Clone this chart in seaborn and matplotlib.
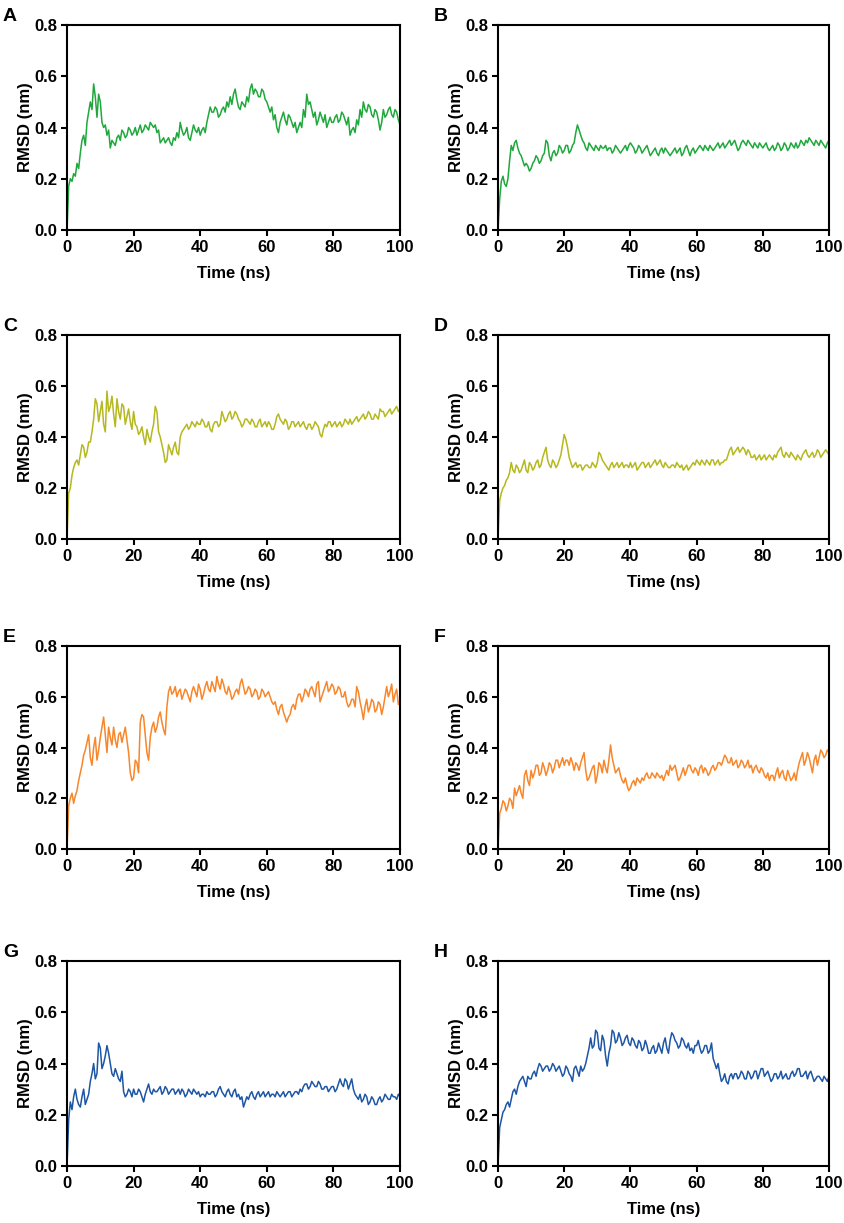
import matplotlib
matplotlib.use("Agg")
import matplotlib.pyplot as plt
import seaborn as sns
import pandas as pd

# time axis (ns): readings at whole ns and at the half-ns in between
time_whole = list(range(101))
time_half = [t + 0.5 for t in range(100)]

# --- A ---
rmsd_a = [0.00, 0.20, 0.22, 0.26, 0.30, 0.37, 0.42, 0.50, 0.57, 0.44, 0.50, 0.40, 0.37, 0.32, 0.34, 0.36, 0.35, 0.38, 0.37, 0.39,
          0.38, 0.37, 0.41, 0.39, 0.40, 0.42, 0.40, 0.38, 0.34, 0.36, 0.35, 0.34, 0.36, 0.38, 0.42, 0.37, 0.40, 0.35, 0.41, 0.38,
          0.37, 0.40, 0.42, 0.48, 0.46, 0.47, 0.45, 0.48, 0.50, 0.52, 0.53, 0.51, 0.47, 0.49, 0.52, 0.55, 0.53, 0.54, 0.52, 0.54,
          0.50, 0.46, 0.43, 0.40, 0.42, 0.46, 0.41, 0.44, 0.40, 0.38, 0.42, 0.47, 0.53, 0.50, 0.44, 0.41, 0.46, 0.42, 0.40, 0.44,
          0.42, 0.45, 0.43, 0.45, 0.41, 0.37, 0.40, 0.43, 0.47, 0.50, 0.46, 0.48, 0.44, 0.46, 0.39, 0.47, 0.45, 0.48, 0.44, 0.46,
          0.41]
rmsd_a_half = [0.17, 0.19, 0.21, 0.24, 0.35, 0.33, 0.46, 0.47, 0.52, 0.53, 0.42, 0.41, 0.39, 0.35, 0.33, 0.37, 0.39, 0.36, 0.40, 0.37,
               0.40, 0.39, 0.38, 0.41, 0.39, 0.41, 0.41, 0.39, 0.35, 0.34, 0.36, 0.33, 0.35, 0.36, 0.39, 0.38, 0.36, 0.38, 0.39, 0.40,
               0.39, 0.38, 0.45, 0.46, 0.48, 0.44, 0.47, 0.46, 0.48, 0.49, 0.55, 0.48, 0.50, 0.48, 0.50, 0.57, 0.55, 0.52, 0.55, 0.51,
               0.48, 0.48, 0.45, 0.38, 0.44, 0.43, 0.45, 0.42, 0.42, 0.40, 0.40, 0.44, 0.49, 0.47, 0.46, 0.43, 0.44, 0.45, 0.42, 0.42,
               0.44, 0.42, 0.46, 0.43, 0.44, 0.39, 0.38, 0.41, 0.44, 0.47, 0.49, 0.45, 0.47, 0.43, 0.42, 0.44, 0.47, 0.45, 0.47, 0.43]

# --- B ---
rmsd_b = [0.00, 0.19, 0.18, 0.20, 0.33, 0.34, 0.32, 0.29, 0.25, 0.25, 0.24, 0.27, 0.28, 0.27, 0.30, 0.34, 0.27, 0.31, 0.30, 0.32,
          0.31, 0.33, 0.31, 0.34, 0.41, 0.37, 0.34, 0.31, 0.33, 0.31, 0.32, 0.33, 0.32, 0.31, 0.32, 0.31, 0.32, 0.30, 0.32, 0.31,
          0.34, 0.32, 0.31, 0.32, 0.31, 0.33, 0.29, 0.31, 0.30, 0.31, 0.30, 0.31, 0.29, 0.31, 0.30, 0.32, 0.30, 0.33, 0.29, 0.32,
          0.31, 0.33, 0.31, 0.32, 0.33, 0.31, 0.33, 0.32, 0.34, 0.33, 0.35, 0.34, 0.33, 0.32, 0.35, 0.33, 0.34, 0.32, 0.33, 0.34,
          0.32, 0.34, 0.31, 0.33, 0.32, 0.33, 0.32, 0.33, 0.32, 0.33, 0.34, 0.33, 0.34, 0.35, 0.36, 0.34, 0.35, 0.33, 0.34, 0.32,
          0.35]
rmsd_b_half = [0.12, 0.21, 0.17, 0.27, 0.31, 0.35, 0.30, 0.27, 0.26, 0.23, 0.26, 0.29, 0.26, 0.29, 0.35, 0.29, 0.30, 0.29, 0.33, 0.30,
               0.33, 0.30, 0.33, 0.38, 0.39, 0.35, 0.32, 0.34, 0.32, 0.33, 0.31, 0.32, 0.33, 0.32, 0.30, 0.33, 0.31, 0.31, 0.33, 0.33,
               0.33, 0.30, 0.33, 0.30, 0.32, 0.31, 0.30, 0.32, 0.29, 0.32, 0.32, 0.30, 0.30, 0.32, 0.31, 0.29, 0.32, 0.31, 0.31, 0.30,
               0.32, 0.32, 0.33, 0.31, 0.32, 0.32, 0.34, 0.33, 0.32, 0.34, 0.33, 0.35, 0.31, 0.34, 0.34, 0.35, 0.33, 0.34, 0.32, 0.33,
               0.33, 0.32, 0.32, 0.31, 0.34, 0.31, 0.34, 0.31, 0.34, 0.32, 0.32, 0.35, 0.33, 0.34, 0.35, 0.33, 0.34, 0.35, 0.33, 0.34]

# --- C ---
rmsd_c = [0.00, 0.20, 0.28, 0.31, 0.33, 0.36, 0.34, 0.38, 0.47, 0.53, 0.50, 0.45, 0.58, 0.52, 0.49, 0.55, 0.47, 0.52, 0.48, 0.46,
          0.50, 0.44, 0.42, 0.40, 0.43, 0.38, 0.45, 0.50, 0.40, 0.34, 0.31, 0.35, 0.36, 0.34, 0.40, 0.43, 0.45, 0.44, 0.45, 0.46,
          0.45, 0.46, 0.44, 0.43, 0.45, 0.46, 0.45, 0.48, 0.47, 0.50, 0.48, 0.49, 0.46, 0.45, 0.47, 0.45, 0.46, 0.44, 0.47, 0.45,
          0.44, 0.45, 0.43, 0.48, 0.47, 0.45, 0.46, 0.44, 0.46, 0.45, 0.44, 0.46, 0.43, 0.45, 0.44, 0.45, 0.41, 0.43, 0.44, 0.46,
          0.45, 0.44, 0.46, 0.45, 0.46, 0.47, 0.46, 0.48, 0.47, 0.49, 0.48, 0.49, 0.47, 0.48, 0.51, 0.50, 0.49, 0.51, 0.50, 0.52,
          0.51]
rmsd_c_half = [0.18, 0.25, 0.30, 0.29, 0.37, 0.32, 0.38, 0.42, 0.55, 0.46, 0.54, 0.42, 0.50, 0.56, 0.44, 0.50, 0.53, 0.45, 0.51, 0.43,
               0.45, 0.41, 0.44, 0.37, 0.40, 0.42, 0.52, 0.42, 0.37, 0.30, 0.37, 0.33, 0.38, 0.33, 0.42, 0.44, 0.43, 0.46, 0.44, 0.45,
               0.47, 0.44, 0.46, 0.42, 0.46, 0.44, 0.50, 0.46, 0.49, 0.47, 0.50, 0.47, 0.44, 0.47, 0.46, 0.47, 0.44, 0.46, 0.44, 0.46,
               0.46, 0.43, 0.45, 0.49, 0.46, 0.47, 0.43, 0.46, 0.44, 0.46, 0.45, 0.44, 0.45, 0.43, 0.46, 0.44, 0.40, 0.45, 0.46, 0.44,
               0.46, 0.45, 0.44, 0.47, 0.45, 0.45, 0.47, 0.46, 0.48, 0.47, 0.50, 0.47, 0.49, 0.47, 0.50, 0.48, 0.50, 0.49, 0.51, 0.50]

# --- D ---
rmsd_d = [0.00, 0.18, 0.21, 0.24, 0.30, 0.26, 0.28, 0.27, 0.31, 0.26, 0.29, 0.28, 0.31, 0.29, 0.34, 0.31, 0.28, 0.30, 0.29, 0.33,
          0.41, 0.36, 0.30, 0.29, 0.28, 0.29, 0.28, 0.29, 0.28, 0.29, 0.30, 0.33, 0.30, 0.28, 0.29, 0.28, 0.30, 0.29, 0.28, 0.29,
          0.30, 0.29, 0.27, 0.29, 0.30, 0.29, 0.28, 0.30, 0.29, 0.31, 0.28, 0.29, 0.28, 0.29, 0.30, 0.28, 0.27, 0.29, 0.28, 0.30,
          0.31, 0.29, 0.30, 0.31, 0.29, 0.31, 0.30, 0.29, 0.30, 0.31, 0.35, 0.33, 0.35, 0.34, 0.36, 0.33, 0.34, 0.32, 0.31, 0.33,
          0.32, 0.31, 0.33, 0.31, 0.32, 0.35, 0.33, 0.34, 0.32, 0.33, 0.31, 0.32, 0.33, 0.35, 0.32, 0.34, 0.33, 0.34, 0.33, 0.35,
          0.33]
rmsd_d_half = [0.15, 0.20, 0.23, 0.26, 0.27, 0.29, 0.26, 0.29, 0.27, 0.30, 0.27, 0.30, 0.28, 0.32, 0.36, 0.29, 0.31, 0.28, 0.31, 0.37,
               0.39, 0.32, 0.28, 0.30, 0.29, 0.27, 0.29, 0.28, 0.30, 0.28, 0.34, 0.31, 0.29, 0.27, 0.30, 0.29, 0.28, 0.30, 0.29, 0.28,
               0.28, 0.30, 0.28, 0.30, 0.28, 0.30, 0.29, 0.31, 0.30, 0.29, 0.30, 0.28, 0.29, 0.28, 0.29, 0.29, 0.28, 0.27, 0.29, 0.29,
               0.30, 0.31, 0.29, 0.30, 0.31, 0.29, 0.31, 0.30, 0.31, 0.33, 0.36, 0.34, 0.36, 0.35, 0.35, 0.35, 0.32, 0.33, 0.32, 0.31,
               0.33, 0.32, 0.32, 0.33, 0.34, 0.36, 0.32, 0.33, 0.34, 0.32, 0.33, 0.31, 0.34, 0.33, 0.33, 0.32, 0.35, 0.32, 0.34, 0.34]

# --- E ---
rmsd_e = [0.00, 0.20, 0.18, 0.23, 0.30, 0.37, 0.42, 0.36, 0.40, 0.35, 0.44, 0.52, 0.38, 0.44, 0.48, 0.40, 0.46, 0.45, 0.43, 0.30,
          0.28, 0.34, 0.50, 0.52, 0.38, 0.44, 0.50, 0.48, 0.54, 0.47, 0.56, 0.64, 0.62, 0.60, 0.63, 0.61, 0.62, 0.58, 0.64, 0.60,
          0.63, 0.61, 0.66, 0.62, 0.64, 0.68, 0.63, 0.65, 0.61, 0.62, 0.60, 0.63, 0.65, 0.64, 0.62, 0.63, 0.61, 0.62, 0.60, 0.62,
          0.61, 0.60, 0.57, 0.55, 0.56, 0.54, 0.50, 0.53, 0.57, 0.59, 0.61, 0.60, 0.62, 0.63, 0.62, 0.65, 0.58, 0.62, 0.66, 0.63,
          0.64, 0.62, 0.63, 0.60, 0.58, 0.57, 0.59, 0.64, 0.58, 0.51, 0.59, 0.56, 0.58, 0.55, 0.57, 0.56, 0.64, 0.62, 0.58, 0.63,
          0.58]
rmsd_e_half = [0.17, 0.22, 0.21, 0.27, 0.33, 0.39, 0.45, 0.33, 0.44, 0.39, 0.48, 0.45, 0.48, 0.41, 0.43, 0.45, 0.42, 0.48, 0.38, 0.27,
               0.35, 0.30, 0.53, 0.45, 0.35, 0.48, 0.46, 0.52, 0.50, 0.45, 0.62, 0.61, 0.64, 0.62, 0.59, 0.63, 0.60, 0.62, 0.62, 0.65,
               0.59, 0.64, 0.63, 0.66, 0.62, 0.65, 0.67, 0.62, 0.64, 0.59, 0.62, 0.61, 0.67, 0.61, 0.64, 0.60, 0.63, 0.59, 0.63, 0.60,
               0.62, 0.58, 0.58, 0.53, 0.57, 0.52, 0.52, 0.56, 0.55, 0.61, 0.58, 0.63, 0.60, 0.64, 0.60, 0.66, 0.60, 0.64, 0.62, 0.65,
               0.61, 0.64, 0.60, 0.62, 0.56, 0.59, 0.56, 0.62, 0.55, 0.56, 0.54, 0.59, 0.54, 0.58, 0.53, 0.60, 0.60, 0.65, 0.61, 0.57]

# --- F ---
rmsd_f = [0.00, 0.16, 0.18, 0.17, 0.19, 0.24, 0.23, 0.22, 0.29, 0.27, 0.31, 0.30, 0.33, 0.30, 0.32, 0.31, 0.33, 0.32, 0.35, 0.34,
          0.33, 0.35, 0.36, 0.31, 0.33, 0.34, 0.38, 0.27, 0.30, 0.33, 0.29, 0.33, 0.35, 0.30, 0.41, 0.33, 0.31, 0.29, 0.26, 0.25,
          0.24, 0.27, 0.28, 0.26, 0.27, 0.30, 0.28, 0.29, 0.30, 0.28, 0.27, 0.31, 0.33, 0.32, 0.30, 0.28, 0.32, 0.31, 0.33, 0.30,
          0.31, 0.32, 0.30, 0.31, 0.30, 0.33, 0.32, 0.34, 0.35, 0.36, 0.34, 0.33, 0.35, 0.33, 0.34, 0.33, 0.32, 0.30, 0.33, 0.30,
          0.31, 0.28, 0.27, 0.29, 0.30, 0.28, 0.31, 0.27, 0.29, 0.28, 0.27, 0.34, 0.38, 0.35, 0.36, 0.30, 0.37, 0.36, 0.38, 0.37,
          0.38]
rmsd_f_half = [0.14, 0.19, 0.15, 0.20, 0.16, 0.21, 0.25, 0.20, 0.31, 0.25, 0.28, 0.33, 0.29, 0.34, 0.29, 0.34, 0.30, 0.35, 0.32, 0.36,
               0.35, 0.33, 0.34, 0.34, 0.31, 0.36, 0.31, 0.28, 0.32, 0.26, 0.34, 0.30, 0.32, 0.35, 0.36, 0.30, 0.32, 0.27, 0.28, 0.23,
               0.26, 0.25, 0.27, 0.28, 0.29, 0.28, 0.30, 0.28, 0.29, 0.29, 0.29, 0.29, 0.31, 0.33, 0.27, 0.30, 0.29, 0.33, 0.31, 0.32,
               0.29, 0.33, 0.32, 0.29, 0.32, 0.31, 0.34, 0.33, 0.37, 0.34, 0.36, 0.34, 0.32, 0.35, 0.32, 0.35, 0.33, 0.32, 0.31, 0.32,
               0.29, 0.30, 0.29, 0.27, 0.32, 0.30, 0.28, 0.31, 0.27, 0.30, 0.31, 0.36, 0.33, 0.38, 0.33, 0.35, 0.33, 0.39, 0.36, 0.39]

# --- G ---
rmsd_g = [0.00, 0.25, 0.27, 0.26, 0.23, 0.30, 0.26, 0.33, 0.40, 0.36, 0.46, 0.40, 0.47, 0.40, 0.35, 0.36, 0.33, 0.29, 0.28, 0.29,
          0.30, 0.28, 0.29, 0.25, 0.30, 0.29, 0.30, 0.29, 0.31, 0.29, 0.30, 0.29, 0.30, 0.29, 0.28, 0.29, 0.28, 0.29, 0.30, 0.28,
          0.27, 0.28, 0.29, 0.28, 0.29, 0.28, 0.31, 0.28, 0.29, 0.28, 0.29, 0.27, 0.26, 0.23, 0.27, 0.28, 0.27, 0.28, 0.27, 0.29,
          0.28, 0.27, 0.28, 0.29, 0.27, 0.29, 0.28, 0.29, 0.28, 0.29, 0.30, 0.31, 0.32, 0.31, 0.32, 0.31, 0.32, 0.30, 0.31, 0.30,
          0.31, 0.30, 0.34, 0.31, 0.33, 0.32, 0.30, 0.27, 0.28, 0.26, 0.27, 0.25, 0.26, 0.24, 0.27, 0.26, 0.27, 0.26, 0.27, 0.26,
          0.27]
rmsd_g_half = [0.18, 0.22, 0.30, 0.24, 0.27, 0.24, 0.28, 0.36, 0.34, 0.48, 0.38, 0.43, 0.44, 0.36, 0.38, 0.34, 0.37, 0.27, 0.30, 0.27,
               0.28, 0.30, 0.27, 0.28, 0.32, 0.28, 0.29, 0.30, 0.28, 0.31, 0.28, 0.30, 0.28, 0.30, 0.30, 0.27, 0.30, 0.28, 0.29, 0.29,
               0.28, 0.27, 0.28, 0.29, 0.27, 0.30, 0.29, 0.27, 0.30, 0.27, 0.30, 0.28, 0.27, 0.25, 0.26, 0.29, 0.26, 0.29, 0.28, 0.27,
               0.29, 0.28, 0.27, 0.28, 0.28, 0.27, 0.29, 0.27, 0.29, 0.28, 0.29, 0.32, 0.30, 0.33, 0.31, 0.33, 0.30, 0.31, 0.29, 0.31,
               0.29, 0.32, 0.32, 0.34, 0.30, 0.34, 0.28, 0.26, 0.25, 0.28, 0.24, 0.27, 0.24, 0.26, 0.25, 0.28, 0.26, 0.28, 0.27, 0.28]

# --- H ---
rmsd_h = [0.00, 0.18, 0.22, 0.25, 0.26, 0.30, 0.31, 0.34, 0.33, 0.35, 0.34, 0.37, 0.38, 0.39, 0.38, 0.39, 0.38, 0.39, 0.38, 0.37,
          0.36, 0.38, 0.35, 0.38, 0.37, 0.39, 0.38, 0.43, 0.50, 0.47, 0.52, 0.45, 0.49, 0.39, 0.47, 0.52, 0.49, 0.50, 0.48, 0.51,
          0.47, 0.49, 0.46, 0.48, 0.46, 0.47, 0.44, 0.47, 0.45, 0.46, 0.48, 0.46, 0.49, 0.51, 0.48, 0.47, 0.49, 0.46, 0.45, 0.44,
          0.47, 0.46, 0.45, 0.47, 0.45, 0.42, 0.38, 0.36, 0.34, 0.33, 0.35, 0.34, 0.36, 0.35, 0.36, 0.34, 0.36, 0.35, 0.37, 0.36,
          0.38, 0.36, 0.35, 0.34, 0.36, 0.35, 0.34, 0.36, 0.34, 0.37, 0.36, 0.38, 0.35, 0.37, 0.36, 0.35, 0.34, 0.35, 0.33, 0.34,
          0.35]
rmsd_h_half = [0.15, 0.21, 0.24, 0.23, 0.29, 0.28, 0.33, 0.35, 0.31, 0.34, 0.36, 0.35, 0.40, 0.37, 0.39, 0.37, 0.40, 0.37, 0.39, 0.35,
               0.39, 0.36, 0.33, 0.39, 0.35, 0.37, 0.40, 0.46, 0.46, 0.53, 0.46, 0.51, 0.43, 0.44, 0.53, 0.48, 0.52, 0.47, 0.50, 0.48,
               0.50, 0.47, 0.49, 0.45, 0.49, 0.44, 0.46, 0.44, 0.48, 0.44, 0.50, 0.44, 0.52, 0.49, 0.46, 0.50, 0.47, 0.48, 0.46, 0.47,
               0.49, 0.44, 0.47, 0.44, 0.48, 0.40, 0.40, 0.33, 0.36, 0.32, 0.36, 0.36, 0.34, 0.37, 0.34, 0.37, 0.34, 0.37, 0.34, 0.38,
               0.35, 0.37, 0.33, 0.36, 0.34, 0.37, 0.35, 0.34, 0.36, 0.35, 0.38, 0.35, 0.36, 0.34, 0.37, 0.33, 0.35, 0.34, 0.35, 0.33]

panel_labels = ["A", "B", "C", "D", "E", "F", "G", "H"]
series = [(rmsd_a, rmsd_a_half), (rmsd_b, rmsd_b_half), (rmsd_c, rmsd_c_half), (rmsd_d, rmsd_d_half),
          (rmsd_e, rmsd_e_half), (rmsd_f, rmsd_f_half), (rmsd_g, rmsd_g_half), (rmsd_h, rmsd_h_half)]
colors = ["#1fa83c", "#1fa83c", "#b5b81e", "#b5b81e", "#f8862a", "#f8862a", "#1d56a5", "#1d56a5"]

x_ticks = [0, 20, 40, 60, 80, 100]
y_ticks = [0.0, 0.2, 0.4, 0.6, 0.8]

sns.set_style("ticks")
plt.rcParams["font.family"] = ["Liberation Sans", "DejaVu Sans"]
plt.rcParams["font.weight"] = "bold"
for k in ["text.color", "axes.labelcolor", "xtick.color", "ytick.color", "axes.edgecolor"]:
    plt.rcParams[k] = "black"

W, H = 844, 1223
fig = plt.figure(figsize=(W / 100, H / 100), dpi=100)

# axes boxes in pixels: (left, right) per column, (top, bottom) per row
col_x = [(67, 400), (498, 829)]
row_y = [(25, 230), (335, 539), (646, 849), (961, 1166)]

for i, (lab, (whole, half), col) in enumerate(zip(panel_labels, series, colors)):
    r, c = divmod(i, 2)
    x0, x1 = col_x[c]
    y0, y1 = row_y[r]
    ax = fig.add_axes([x0 / W, 1 - y1 / H, (x1 - x0) / W, (y1 - y0) / H])
    df = pd.DataFrame({"time": time_whole + time_half, "rmsd": whole + half})
    sns.lineplot(data=df, x="time", y="rmsd", ax=ax, color=col, linewidth=1.1)
    ax.set_xlim(0, 100)
    ax.set_ylim(0, 0.8)
    ax.set_xticks(x_ticks)
    ax.set_yticks(y_ticks)
    ax.set_yticklabels([f"{v:.1f}" for v in y_ticks])
    ax.tick_params(direction="out", length=4, width=1.5, labelsize=12, pad=3)
    for sp in ax.spines.values():
        sp.set_visible(True)
        sp.set_linewidth(1.5)
        sp.set_color("black")
    ax.set_xlabel("Time (ns)", fontsize=12, fontweight="bold", labelpad=8)
    ax.set_ylabel("RMSD (nm)", fontsize=12, fontweight="bold", labelpad=1)
    for t in ax.get_xticklabels() + ax.get_yticklabels():
        t.set_fontweight("bold")
    fig.text((x0 - 64) / W, 1 - (y0 - 17) / H, lab, fontsize=14, fontweight="bold",
             ha="left", va="top")

fig.savefig("out.png", dpi=100)
